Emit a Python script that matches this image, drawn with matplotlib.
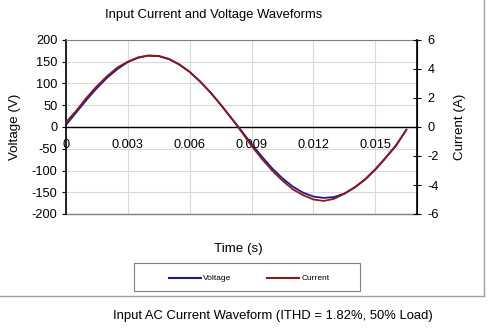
import matplotlib
matplotlib.use("Agg")
import matplotlib.pyplot as plt
from matplotlib.patches import Rectangle
from matplotlib.lines import Line2D

plt.rcParams['font.family'] = ['Liberation Sans', 'DejaVu Sans']
plt.rcParams['axes.unicode_minus'] = False

time_s = [0.0, 0.0005, 0.001, 0.0015, 0.002, 0.0025, 0.003, 0.0035, 0.004, 0.0045,
          0.005, 0.0055, 0.006, 0.0065, 0.007, 0.0075, 0.008, 0.0085, 0.009, 0.0095,
          0.010, 0.0105, 0.011, 0.0115, 0.012, 0.0125, 0.013, 0.0135, 0.014, 0.0145,
          0.015, 0.0155, 0.016, 0.0165]
voltage_v = [4, 33, 62, 89, 113, 133, 149, 159, 164, 163,
             156, 144, 127, 105, 80, 52, 22, -8, -39, -68,
             -95, -118, -137, -151, -160, -163, -161, -153, -139, -121,
             -98, -71, -43, -6]
current_a = [0.3, 1.1, 2.0, 2.8, 3.5, 4.1, 4.5, 4.8, 4.93, 4.9,
             4.7, 4.3, 3.8, 3.15, 2.4, 1.55, 0.65, -0.3, -1.3, -2.2,
             -3.0, -3.7, -4.3, -4.7, -5.0, -5.1, -4.95, -4.6, -4.15, -3.6,
             -2.9, -2.1, -1.25, -0.2]
x_ticks = [0, 0.003, 0.006, 0.009, 0.012, 0.015]
x_ticklabels = ["0", "0.003", "0.006", "0.009", "0.012", "0.015"]
v_ticks = [-200, -150, -100, -50, 0, 50, 100, 150, 200]
i_ticks = [-6, -4, -2, 0, 2, 4, 6]

W, H = 489, 331
fig = plt.figure(figsize=(W / 100, H / 100), dpi=100)

# chart frame (right and bottom border)
fig.add_artist(Line2D([484 / W, 484 / W], [1, (H - 296) / H], color='#a0a0a0', lw=1, transform=fig.transFigure))
fig.add_artist(Line2D([0, 484 / W], [(H - 296) / H, (H - 296) / H], color='#a0a0a0', lw=1, transform=fig.transFigure))

left, right = 65.7 / W, 416.7 / W
bottom, top = (H - 214) / H, (H - 40) / H
ax = fig.add_axes([left, bottom, right - left, top - bottom])
ax2 = ax.twinx()

ax.set_xlim(0, 0.017)
ax.set_ylim(-200, 200)
ax2.set_ylim(-6, 6)

ax.set_yticks(v_ticks)
ax.set_xticks(x_ticks)
ax.set_xticklabels(x_ticklabels)
ax2.set_yticks(i_ticks)

ax.grid(True, color='#d9d9d9', lw=0.8)
ax.set_axisbelow(True)

ax.spines['bottom'].set_position(('data', 0))
ax.spines['bottom'].set_color('black')
ax.spines['bottom'].set_linewidth(1)
ax.spines['top'].set_color('#808080')
ax.spines['left'].set_linewidth(1.2)
ax2.spines['right'].set_linewidth(1.2)
for s in ['top', 'bottom', 'left']:
    ax2.spines[s].set_visible(False)

# bottom edge of plot area
ax.axhline(-200, color='#808080', lw=1, clip_on=False)

ax.tick_params(axis='y', labelsize=9.2, length=3, width=0.8, pad=3)
ax.tick_params(axis='x', labelsize=9.2, length=0, pad=9)
ax2.tick_params(axis='y', labelsize=9.2, length=6, width=0.8, direction='inout', pad=5)

ax.plot(time_s, voltage_v, color='#1c1c8c', lw=1.3, label='Voltage', zorder=3)
ax2.plot(time_s, current_a, color='#8b1a1a', lw=1.3, label='Current', zorder=3)

ax.set_ylabel('Voltage (V)', fontsize=9.6, va='center')
ax2.set_ylabel('Current (A)', fontsize=9.6, va='center', rotation=90)
ax.yaxis.set_label_coords((15 - 65.7) / 351, 0.5)
ax2.yaxis.set_label_coords((460 - 65.7) / 351, 0.5)

fig.text(214 / W, 1 - 15 / H, 'Input Current and Voltage Waveforms', ha='center', va='center', fontsize=9.4)
fig.text(238 / W, 1 - 249 / H, 'Time (s)', ha='center', va='center', fontsize=9.6)
fig.text(273 / W, 1 - 316 / H, 'Input AC Current Waveform (ITHD = 1.82%, 50% Load)', ha='center', va='center', fontsize=9.4)

# legend box
lb = Rectangle((133.7 / W, 1 - 291 / H), (360 - 133.7) / W, 28 / H, transform=fig.transFigure,
               facecolor='white', edgecolor='#808080', lw=0.8)
fig.add_artist(lb)
ly = 1 - 278 / H
fig.add_artist(Line2D([169 / W, 201 / W], [ly, ly], color='#1c1c8c', lw=1.5, transform=fig.transFigure))
fig.text(203 / W, ly, 'Voltage', ha='left', va='center', fontsize=6)
fig.add_artist(Line2D([267 / W, 299 / W], [ly, ly], color='#8b1a1a', lw=1.5, transform=fig.transFigure))
fig.text(302 / W, ly, 'Current', ha='left', va='center', fontsize=6)

fig.savefig('out.png', dpi=100)
